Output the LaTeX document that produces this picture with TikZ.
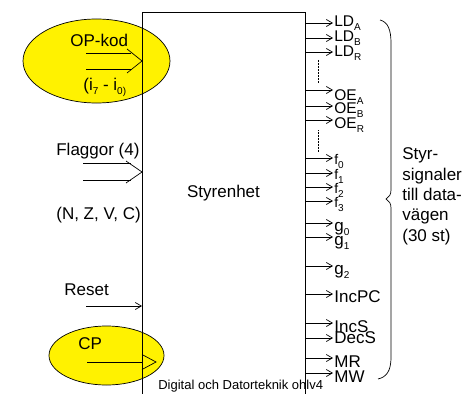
\documentclass[tikz,border=0pt]{standalone}
\usepackage{fontspec}
\setmainfont{Liberation Sans}
\usetikzlibrary{arrows.meta,positioning,calc,shapes.geometric}
\newcommand{\lo}[1]{\raisebox{-4pt}{\fontsize{10}{10}\selectfont #1}}

\begin{document}
\begin{tikzpicture}[x=1pt,y=-1pt,line width=0.7pt,
    txt/.style={inner sep=0pt,anchor=base west,font=\fontsize{17}{20}\selectfont},
    sigld/.style={inner sep=0pt,anchor=base west,font=\fontsize{15.5}{18}\selectfont},
    sigf/.style={inner sep=0pt,anchor=base west,font=\fontsize{14}{17}\selectfont},
    ut/.style={-{Straight Barb[length=6pt,width=7pt]}},
    oval/.style={draw,ellipse,fill=yellow,inner sep=0pt}]
  \useasboundingbox (0,0) rectangle (462,393);

  % gula ovaler bakom
  \node[oval,minimum width=147pt,minimum height=84pt] (opoval) at (96.5,61) {};
  \node[oval,minimum width=115pt,minimum height=59pt] (cpoval) at (106.5,355.5) {};

  \node[draw,anchor=north west,inner sep=0pt,minimum width=163pt,minimum height=400pt] (styr) at (142,12) {};
  \node[txt,anchor=base] (namn) at (223.5,197) {Styrenhet};

  % ingangar
  \node[txt] (opkod) at (70,47) {OP-kod};
  \node[txt] (ibitar) at (83,91) {(i\lo{7} - i\lo{0)}};
  \coordinate (opin) at (86,61);
  \draw (opin) ++(0,-8) -- ++(45,0);
  \draw (opin) ++(0,8) -- ++(45,0);
  \draw ($(styr.west |- opin)+(-15,-12)$) -- (styr.west |- opin) -- ($(styr.west |- opin)+(-15,12)$);

  \node[txt] (flaggor) at (56,155) {Flaggor (4)};
  \node[txt] (nzvc) at (56,219) {(N, Z, V, C)};
  \coordinate (flin) at (83,172);
  \draw (flin) ++(0,-8.5) -- ++(48,0);
  \draw (flin) ++(0,8.5) -- ++(48,0);
  \draw ($(styr.west |- flin)+(-16,-11)$) -- (styr.west |- flin) -- ($(styr.west |- flin)+(-16,11)$);

  \node[txt] (reset) at (64,295) {Reset};
  \coordinate (rin) at (86,306);
  \draw[ut] (rin) -- (styr.west |- rin);

  \node[txt] (cp) at (78,349) {CP};
  \coordinate (cpin) at (87,362);
  \draw (cpin) -- (styr.west |- cpin);
  \draw ($(styr.west |- cpin)+(0,-7.5)$) -- ++(14,7.5) -- ++(-14,7.5);

  % utgangar
  \foreach \n/\y/\b/\t in {la/23/27/LD\lo{A}, lb/38/42/LD\lo{B}, lr/52/57/LD\lo{R},
      oa/90/100/OE\lo{A}, ob/106/113/OE\lo{B}, or/120/128/OE\lo{R}}{
    \coordinate (u\n) at (333,\y);
    \draw[ut] (styr.east |- u\n) -- (u\n);
    \node[sigld] (s\n) at (334,\b) {\t};
  }
  \foreach \n/\y in {0/158,1/173,2/187,3/201}{
    \coordinate (uf\n) at (333,\y);
    \draw[ut] (styr.east |- uf\n) -- (uf\n);
    \node[sigf] (sf\n) at (334,\y+6) {f\lo{\n}};
  }
  \foreach \n/\y/\b/\t in {g0/223/231/g\lo{0}, g1/237/245/g\lo{1}, g2/266/274/g\lo{2},
      incpc/294/302/IncPC, incs/323/332/IncS, decs/338/343/DecS,
      mr/358/367/MR, mw/373/382/MW}{
    \coordinate (u\n) at (333,\y);
    \draw[ut] (styr.east |- u\n) -- (u\n);
    \node[txt] (s\n) at (334,\b) {\t};
  }
  \draw[densely dotted,line width=0.5pt] (318,60) -- (318,83);
  \draw[densely dotted,line width=0.5pt] (318,130) -- (318,152);

  % klammer
  \draw (380,20) .. controls (388,22) and (391,30) .. (391,43) -- (391,190)
    .. controls (391,195) and (389,197) .. (386,199)
    .. controls (389,201) and (391,203) .. (391,208) -- (391,357)
    .. controls (391,372) and (386,377) .. (378,379);
  \node[txt,anchor=north west,align=left,font=\fontsize{17}{20.3}\selectfont] (styrsig) at (402,147.6)
    {Styr-\\signaler\\till data-\\vägen\\(30 st)};

  \node[inner sep=0pt,anchor=base west,font=\fontsize{13}{15}\selectfont] (fot) at (158,389)
    {Digital och Datorteknik ohlv4};
\end{tikzpicture}
\end{document}
